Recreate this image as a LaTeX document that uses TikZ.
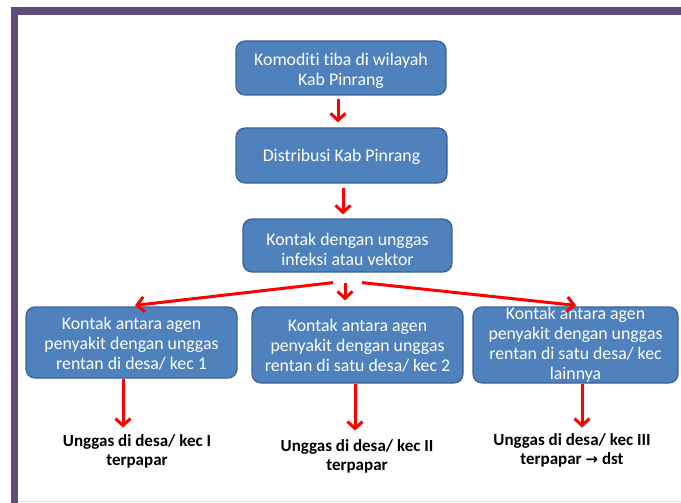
\documentclass[tikz,border=0pt]{standalone}
\usepackage{fontspec}
\setmainfont{Carlito}[Ligatures=NoCommon]
\newfontfamily\symfont{DejaVu Sans}
\usetikzlibrary{arrows.meta,calc}
\definecolor{boxfill}{HTML}{4F81BD}
\definecolor{boxborder}{HTML}{3A6394}
\definecolor{framepurple}{HTML}{604A7B}
\definecolor{arrred}{HTML}{FF0000}
\begin{document}
\begin{tikzpicture}[x=1pt,y=-1pt,
 box/.style={draw=boxborder,line width=1.2pt,fill=boxfill,rounded corners=9pt,inner sep=0pt},
 boxtext/.style={text=white,font=\fontsize{17.8}{20}\selectfont,align=center,inner sep=0pt},
 lbl/.style={font=\bfseries\fontsize{17}{19}\selectfont,align=center,inner sep=0pt},
 arr/.style={draw=arrred,line width=3pt,-{Straight Barb[length=7pt,width=15pt]}}]
\useasboundingbox (0,0) rectangle (681,503);
\fill[white] (0,0) rectangle (681,503);
% frame
\fill[framepurple] (11,7) rectangle (681,15);
\fill[framepurple] (11,7) rectangle (18,503);
\draw[gray!25,line width=1pt] (18,501) -- (681,501);
% boxes
\node[box,minimum width=210pt,minimum height=54pt] (b1) at (341,68) {};
\node[box,minimum width=211pt,minimum height=55pt] (b2) at (341.5,155.5) {};
\node[box,minimum width=209pt,minimum height=53pt] (b3) at (347.5,245.5) {};
\node[box,minimum width=211pt,minimum height=71pt] (b4) at (131.5,342.5) {};
\node[box,minimum width=211pt,minimum height=76pt] (b5) at (357.5,345) {};
\node[box,minimum width=205pt,minimum height=76pt] (b6) at (575.5,345) {};
% box texts
\node[boxtext] (t1) at (341,71) {Komoditi tiba di wilayah\\Kab Pinrang};
\node[boxtext] (t2) at (341.5,157) {Distribusi Kab Pinrang};
\node[boxtext] (t3) at (347.5,249) {Kontak dengan unggas\\infeksi atau vektor};
\node[boxtext] (t4) at (131.5,344) {Kontak antara agen\\penyakit dengan unggas\\rentan di desa/ kec 1};
\node[boxtext] (t5) at (357.5,346) {Kontak antara agen\\penyakit dengan unggas\\rentan di satu desa/ kec 2};
\node[boxtext] (t6) at (575.5,345) {Kontak antara agen\\penyakit dengan unggas\\rentan di satu desa/ kec\\lainnya};
% labels
\node[lbl] (l1) at (137,451) {Unggas di desa/ kec I\\terpapar};
\node[lbl] (l2) at (357,456) {Unggas di desa/ kec II\\terpapar};
\node[lbl] (l3) at (572,450) {Unggas di desa/ kec III\\terpapar {\symfont\bfseries\fontsize{15}{15}\selectfont →} dst};
% arrow end points
\coordinate (e4) at ($(b4.south)+(-8.5,49)$);
\coordinate (e5) at ($(b5.south)+(-2.5,47)$);
\coordinate (e6) at ($(b6.south)+(6.5,44)$);
% arrows
\draw[arr] ($(b1.south)+(-3,3)$) -- ($(b2.north)+(-3.5,-5)$);
\draw[arr] ($(b2.south)+(1.5,4)$) -- ($(b3.north)+(-4.5,-4)$);
\draw[arr] ($(b3.south)+(-14.5,10)$) -- ($(b4.north)+(3.5,-1)$);
\draw[arr] ($(b3.south)+(-2.5,10)$) -- ($(b5.north)+(-12.5,-6)$);
\draw[arr] ($(b3.south)+(14.5,10)$) -- ($(b6.north)+(0.5,-1)$);
\draw[arr] ($(b4.south)+(-8.5,0)$) -- (e4);
\draw[arr] ($(b5.south)+(-2.5,0)$) -- (e5);
\draw[arr] ($(b6.south)+(6.5,0)$) -- (e6);
\end{tikzpicture}
\end{document}
